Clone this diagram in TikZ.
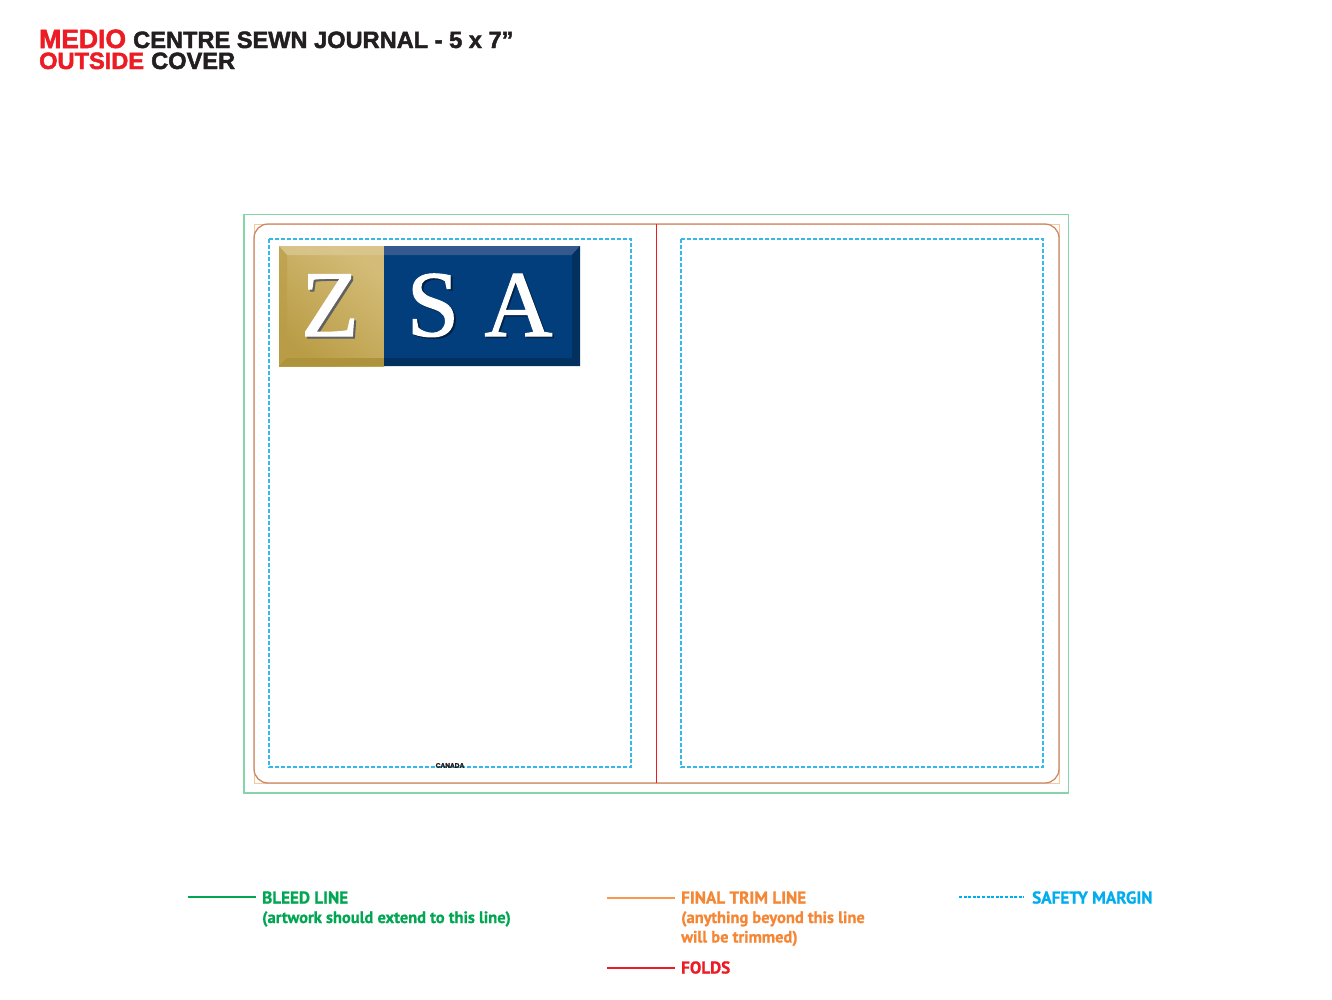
\documentclass[tikz,border=0pt]{standalone}
\usepackage{fontspec}
\setmainfont{Liberation Sans}
\newfontfamily\titlefont[FakeBold=2]{Liberation Sans Bold}
\newfontfamily\legendfont[FakeBold=0.8]{PT Sans Bold}
\newfontfamily\logofont[FakeBold=1.2]{Liberation Serif}
\definecolor{bleedc}{HTML}{86D5AA}
\definecolor{bleedk}{HTML}{00A651}
\definecolor{trimc}{HTML}{F9C79A}
\definecolor{trimr}{HTML}{C98A6A}
\definecolor{trimk}{HTML}{F58634}
\definecolor{foldk}{HTML}{ED1C24}
\definecolor{safek}{HTML}{00AEEF}
\definecolor{safel}{HTML}{35B8EE}
\definecolor{titlek}{HTML}{231F20}
\definecolor{navy}{HTML}{023D7C}
\definecolor{navyT}{HTML}{34598F}
\definecolor{navyD}{HTML}{02305F}
\definecolor{goldA}{HTML}{B99C45}
\definecolor{goldB}{HTML}{D4BC78}
\definecolor{goldT}{HTML}{DCC994}
\definecolor{goldD}{HTML}{AD933B}
\tikzset{
  x=1pt,y=-1pt,
  titletext/.style={anchor=base west,inner sep=0pt,font=\titlefont},
  legendtext/.style={anchor=base west,inner sep=0pt,font=\legendfont\fontsize{16.45}{19}\selectfont},
  legendcaps/.style={legendtext,font=\legendfont\fontsize{17.1}{19}\selectfont},
  safety/.style={color=safel,line width=1.25pt,dash pattern=on 4pt off 2pt},
  logoletter/.style={inner sep=0pt,anchor=base,font=\logofont\fontsize{94}{94}\selectfont},
}
\begin{document}
\begin{tikzpicture}
\useasboundingbox (0,0) rectangle (1332,999);
\fill[white] (0,0) rectangle (1332,999);
% title
\node[titletext,text=foldk] (t1) at (39,48) {\fontsize{26.5}{28}\selectfont MEDIO};
\node[titletext,text=titlek] (t2) at (133,48) {\fontsize{23.6}{28}\selectfont CENTRE SEWN JOURNAL - 5 x 7”};
\node[titletext,text=foldk] (t3) at (39,69) {\fontsize{23.6}{28}\selectfont OUTSIDE};
\node[titletext,text=titlek] (t4) at (151,69) {\fontsize{23.6}{28}\selectfont COVER};
% bleed, trim, fold
\draw[bleedc,line width=1.3pt] (244,214.5) rectangle (1068.5,793);
\draw[trimc,line width=1pt] (254,224) rectangle (1059,783);
\draw[trimr,line width=1.3pt,rounded corners=14pt] (254,224) rectangle (1059,783);
\draw[foldk,line width=1pt] (656.5,224) -- (656.5,783);
% safety margins
\draw[safety] (269,239) rectangle (631,767);
\draw[safety] (681,239) rectangle (1043,767);
% logo
\shade[left color=goldA,right color=goldB,shading angle=140] (279,246) rectangle (384,366);
\fill[goldT,opacity=.75] (279,246) -- (384,246) -- (384,255) -- (287,255) -- cycle;
\fill[goldA,opacity=.55] (279,246) -- (287,255) -- (287,358) -- (279,366) -- cycle;
\fill[goldD] (279,366) -- (287,358) -- (384,358) -- (384,366) -- cycle;
\fill[navy] (384,246) rectangle (580,366);
\fill[navyT] (384,246) -- (580,246) -- (572,255) -- (384,255) -- cycle;
\fill[navyD] (580,246) -- (580,366) -- (572,358) -- (572,255) -- cycle;
\fill[navyD] (384,358) -- (572,358) -- (580,366) -- (384,366) -- cycle;
\node[logoletter,text=black!62] (zs) at (332,338) {Z};
\node[logoletter,text=white] (z) at (330,336) {Z};
\node[logoletter,text=navyD!70!black] (ss) at (435,337.5) {S};
\node[logoletter,text=white] (s) at (433,336) {S};
\node[logoletter,text=navyD!70!black] (as) at (520,337.5) {A};
\node[logoletter,text=white] (a) at (518.5,336) {A};
\node[inner sep=0pt,font=\titlefont\fontsize{6.6}{7}\selectfont,text=titlek] (can) at (450,765.5) {CANADA};
% legend
\coordinate (l1a) at (188,896.5); \coordinate (l1b) at (256,896.5);
\coordinate (l2a) at (607,897.5); \coordinate (l2b) at (675,897.5);
\coordinate (l3a) at (607,967.5); \coordinate (l3b) at (675,967.5);
\coordinate (l4a) at (959,897); \coordinate (l4b) at (1024,897);
\draw[bleedk,line width=2pt] (l1a) -- (l1b);
\draw[trimk!85!white,line width=2pt] (l2a) -- (l2b);
\draw[foldk,line width=2pt] (l3a) -- (l3b);
\draw[color=safek,line width=1.4pt,dash pattern=on 3pt off 1.6pt] (l4a) -- (l4b);
\node[legendcaps,text=bleedk] (b1) at (262,903.5) {BLEED LINE};
\node[legendtext,text=bleedk] (b2) at (262,923) {(artwork should extend to this line)};
\node[legendcaps,text=trimk] (f1) at (681,903.5) {FINAL TRIM LINE};
\node[legendtext,text=trimk] (f2) at (681,923) {(anything beyond this line};
\node[legendtext,text=trimk] (f3) at (681,942.5) {will be trimmed)};
\node[legendcaps,text=foldk] (f4) at (681,973.5) {FOLDS};
\node[legendcaps,text=safek] (s1) at (1032,903.5) {SAFETY MARGIN};
\end{tikzpicture}
\end{document}
